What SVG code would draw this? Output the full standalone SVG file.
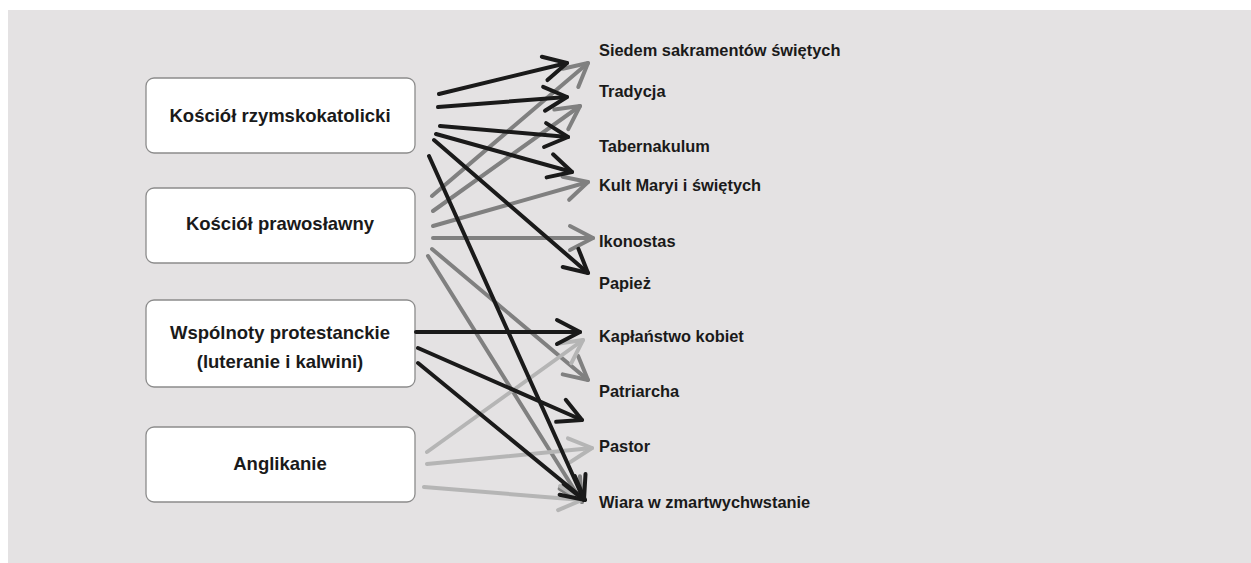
<svg xmlns="http://www.w3.org/2000/svg" width="1251" height="563" viewBox="0 0 1251 563">
<style>
.box{fill:#ffffff;stroke:#8c8c8c;stroke-width:1.3}
.bl{font-family:"Liberation Sans",Arial,sans-serif;font-weight:bold;font-size:18.5px;fill:#1a1a1a;text-anchor:middle}
.lb{font-family:"Liberation Sans",Arial,sans-serif;font-weight:bold;font-size:16.4px;fill:#1a1a1a}
.k{stroke:#1a1a1a;stroke-width:4;stroke-linecap:round;fill:none;marker-end:url(#hk)}
.g{stroke:#808080;stroke-width:4;stroke-linecap:round;fill:none;marker-end:url(#hg)}
.lg{stroke:#b5b5b5;stroke-width:4;stroke-linecap:round;fill:none;marker-end:url(#hl)}
</style>
<defs>
<marker id="hk" markerUnits="userSpaceOnUse" orient="auto" overflow="visible" markerWidth="1" markerHeight="1"><path d="M-23,-12 L0,0 L-23,12" fill="none" stroke="#1a1a1a" stroke-width="4" stroke-linecap="round" stroke-linejoin="round"/></marker>
<marker id="hg" markerUnits="userSpaceOnUse" orient="auto" overflow="visible" markerWidth="1" markerHeight="1"><path d="M-23,-12 L0,0 L-23,12" fill="none" stroke="#808080" stroke-width="4" stroke-linecap="round" stroke-linejoin="round"/></marker>
<marker id="hl" markerUnits="userSpaceOnUse" orient="auto" overflow="visible" markerWidth="1" markerHeight="1"><path d="M-23,-12 L0,0 L-23,12" fill="none" stroke="#b5b5b5" stroke-width="4" stroke-linecap="round" stroke-linejoin="round"/></marker>
</defs>
<rect x="0" y="0" width="1251" height="563" fill="#ffffff"/>
<rect x="8" y="10" width="1243" height="553" fill="#e4e2e3"/>

<g id="node-katolicki"><rect class="box" x="146" y="78" width="269" height="75" rx="8"/><text class="bl" x="280" y="122">Kościół rzymskokatolicki</text></g>
<g id="node-prawoslawny"><rect class="box" x="146" y="188" width="269" height="75" rx="8"/><text class="bl" x="280" y="230">Kościół prawosławny</text></g>
<g id="node-protestanckie"><rect class="box" x="146" y="300" width="269" height="87" rx="8"/><text class="bl" x="280" y="339">Wspólnoty protestanckie</text><text class="bl" x="280" y="368">(luteranie i kalwini)</text></g>
<g id="node-anglikanie"><rect class="box" x="146" y="427" width="269" height="75" rx="8"/><text class="bl" x="280" y="470">Anglikanie</text></g>

<g id="node-siedem"><text class="lb" x="599" y="56">Siedem sakramentów świętych</text></g>
<g id="node-tradycja"><text class="lb" x="599" y="97">Tradycja</text></g>
<g id="node-tabernakulum"><text class="lb" x="599" y="152">Tabernakulum</text></g>
<g id="node-kult"><text class="lb" x="599" y="191">Kult Maryi i świętych</text></g>
<g id="node-ikonostas"><text class="lb" x="599" y="247">Ikonostas</text></g>
<g id="node-papiez"><text class="lb" x="599" y="289">Papież</text></g>
<g id="node-kaplanstwo"><text class="lb" x="599" y="342">Kapłaństwo kobiet</text></g>
<g id="node-patriarcha"><text class="lb" x="599" y="397">Patriarcha</text></g>
<g id="node-pastor"><text class="lb" x="599" y="452">Pastor</text></g>
<g id="node-wiara"><text class="lb" x="599" y="508">Wiara w zmartwychwstanie</text></g>

<g id="connectors">
<line class="g" x1="432" y1="196" x2="588" y2="63"/>
<line class="g" x1="433" y1="211" x2="580" y2="106"/>
<line class="g" x1="433" y1="226" x2="588" y2="182"/>
<line class="g" x1="433" y1="238" x2="593" y2="238"/>
<line class="g" x1="432" y1="249" x2="588" y2="380"/>
<line class="g" x1="428" y1="256" x2="582" y2="502"/>
<line class="lg" x1="427" y1="452" x2="583" y2="340"/>
<line class="lg" x1="427" y1="464" x2="592" y2="448"/>
<line class="lg" x1="424" y1="487" x2="582" y2="500"/>
<line class="k" x1="439" y1="94" x2="567" y2="63"/>
<line class="k" x1="438" y1="107" x2="567" y2="97"/>
<line class="k" x1="440" y1="126" x2="568" y2="137"/>
<line class="k" x1="436" y1="134" x2="572" y2="172"/>
<line class="k" x1="434" y1="140" x2="588" y2="273"/>
<line class="k" x1="429" y1="156" x2="584" y2="500"/>
<line class="k" x1="416" y1="332" x2="580" y2="332"/>
<line class="k" x1="418" y1="348" x2="582" y2="420"/>
<line class="k" x1="418" y1="363" x2="585" y2="500"/>
</g>
</svg>
